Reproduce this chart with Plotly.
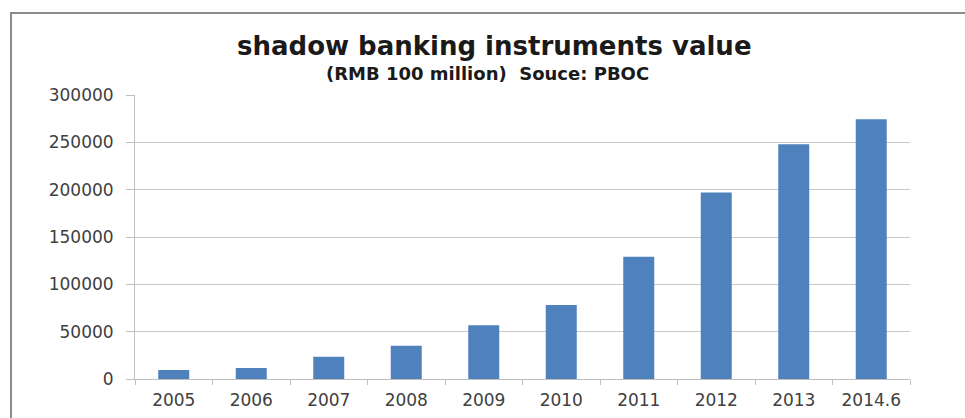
import plotly.graph_objects as go

categories = ["2005", "2006", "2007", "2008", "2009", "2010", "2011", "2012", "2013", "2014.6"]
values = [9500, 11600, 23500, 35200, 56700, 78100, 129100, 197100, 248100, 274500]
y_ticks = [0, 50000, 100000, 150000, 200000, 250000, 300000]
title_text = "shadow banking instruments value"
subtitle_text = "(RMB 100 million)  Souce: PBOC"

W, H = 965, 418
L, R, T, B = 135, 55, 95, 39
pw, ph = W - L - R, H - T - B

def px_x(x):
    return (x - L) / pw

def px_y(y):
    return (H - B - y) / ph

fig = go.Figure()
fig.add_trace(go.Bar(
    x=categories, y=values,
    marker=dict(color="#4F81BD", line=dict(width=0)),
))

fig.update_layout(
    width=W, height=H,
    margin=dict(l=L, r=R, t=T, b=B),
    paper_bgcolor="white", plot_bgcolor="white",
    bargap=0.6, showlegend=False,
    font=dict(family="DejaVu Sans", size=16, color="#595959"),
    xaxis=dict(
        type="category", showgrid=False, showline=True, linecolor="#BFBFBF", linewidth=1,
        ticks="outside", tickson="boundaries", ticklen=5, tickcolor="#BFBFBF",
        ticklabelstandoff=6, automargin=False,
        tickfont=dict(family="DejaVu Sans", size=17, color="#404040"),
    ),
    yaxis=dict(
        range=[0, 300000], tickvals=y_ticks, ticktext=[str(v) for v in y_ticks],
        showgrid=True, gridcolor="#C8C8C8", gridwidth=1,
        showline=True, linecolor="#BFBFBF", linewidth=1,
        ticks="outside", ticklen=8, tickcolor="#BFBFBF",
        ticklabelstandoff=9, automargin=False,
        tickfont=dict(family="DejaVu Sans", size=17, color="#404040"),
        zeroline=False,
    ),
    shapes=[dict(
        type="rect", xref="paper", yref="paper",
        x0=px_x(11), x1=px_x(990), y0=px_y(13), y1=px_y(440),
        line=dict(color="#8C8C8C", width=2), fillcolor="rgba(0,0,0,0)", layer="below",
    )],
    annotations=[
        dict(text="<b>" + title_text + "</b>", xref="paper", yref="paper",
             x=px_x(494), y=px_y(46), xanchor="center", yanchor="middle", showarrow=False,
             font=dict(family="DejaVu Sans", size=26, color="#1a1a1a")),
        dict(text="<b>" + subtitle_text + "</b>", xref="paper", yref="paper",
             x=px_x(487), y=px_y(73), xanchor="center", yanchor="middle", showarrow=False,
             font=dict(family="DejaVu Sans", size=18, color="#1a1a1a")),
    ],
)

fig.write_html(
    "out.html",
    config={"displayModeBar": False},
    post_script="document.body.style.margin='0';document.body.style.overflow='hidden';",
)
